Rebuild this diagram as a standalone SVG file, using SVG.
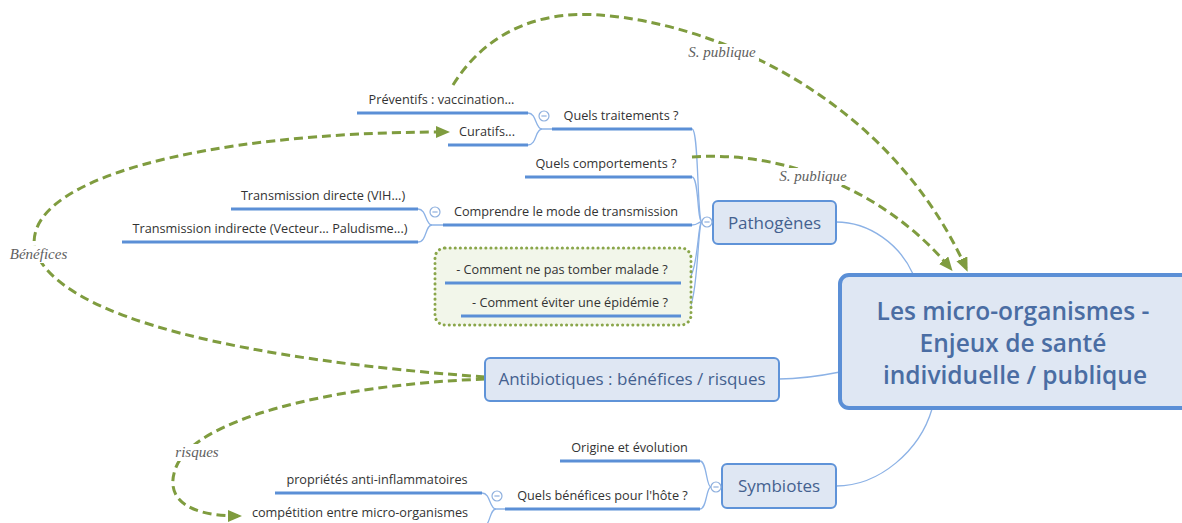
<svg xmlns="http://www.w3.org/2000/svg" width="1182" height="523" viewBox="0 0 1182 523">
<style>
.sub{font-family:"Open Sans","Liberation Sans",sans-serif;font-size:12.7px;fill:#333;text-anchor:middle}
.ul{stroke:#5b8fd6;stroke-width:3;fill:none}
.thin{stroke:#8cb2e6;stroke-width:1.3;fill:none}
.box{fill:#dfe7f3;stroke:#5f93d8;stroke-width:2}
.ntxt{font-family:"Open Sans","Liberation Sans",sans-serif;font-size:17px;fill:#44618f;text-anchor:middle}
.ctxt{font-family:"Open Sans","Liberation Sans",sans-serif;font-size:24.5px;font-weight:600;fill:#4a6da3;text-anchor:middle}
.rel{stroke:#7f9c3f;stroke-width:3;fill:none;stroke-dasharray:9 5}
.lbl{font-family:"Liberation Serif","DejaVu Serif",serif;font-style:italic;font-size:15px;fill:#606060;text-anchor:middle}
.lblbg{fill:#fff}
.col circle{fill:#fff;stroke:#8fb0de;stroke-width:1.2}
.col line{stroke:#8fb0de;stroke-width:1.2}
</style>
<defs>
<marker id="arr" viewBox="0 0 14 12" refX="10" refY="6" markerWidth="14" markerHeight="12" markerUnits="userSpaceOnUse" orient="auto">
<path d="M0,0 L14,6 L0,12 z" fill="#7f9c3f"/>
</marker>
<g id="collapse" class="col"><circle cx="0" cy="0" r="5"/><line x1="-2.6" y1="0" x2="2.6" y2="0"/></g>
</defs>
<rect width="1182" height="523" fill="#fff"/>

<g id="connectors">
<path class="thin" d="M836,222 C870,222 900,245 913,274"/>
<path class="thin" d="M779,379 C800,379 820,376 840,372"/>
<path class="thin" d="M836,486 C880,486 920,450 932,409"/>
<path class="thin" d="M702,222 C697,222 699,129 692,129"/>
<path class="thin" d="M702,222 C697,222 699,177 692,177"/>
<path class="thin" d="M702,222 C697,222 699,225 692,225"/>
<path class="thin" d="M702,222 C697,222 699,283 683,283"/>
<path class="thin" d="M702,222 C697,222 699,316 683,316"/>
<path class="thin" d="M528,113 C537,113 535,129 542,129 L552,129"/>
<path class="thin" d="M528,145 C537,145 535,129 542,129"/>
<path class="thin" d="M418,209 C427,209 425,225 432,225 L443,225"/>
<path class="thin" d="M418,242 C427,242 425,225 432,225"/>
<path class="thin" d="M711,487 C706,487 707,461 700,461"/>
<path class="thin" d="M711,487 C706,487 707,509 700,509"/>
<path class="thin" d="M482,493 C491,493 489,509 496,509 L505,509"/>
<path class="thin" d="M482,527 C491,527 489,509 496,509"/>
</g>

<g id="relations">
<path class="rel" d="M453,85 C495,18 560,12 600,15 C720,24 890,100 966,268" marker-end="url(#arr)"/>
<path class="rel" d="M692,157 C790,150 890,195 950,268" marker-end="url(#arr)"/>
<path class="rel" d="M485,377 C250,360 60,320 35,250 C20,180 200,132 446,132" marker-end="url(#arr)"/>
<path class="rel" d="M485,379 C330,385 190,420 175,470 C165,500 190,516 238,516" marker-end="url(#arr)"/>
<rect class="lblbg" x="687" y="44" width="72" height="17"/>
<text class="lbl" x="722" y="57">S. publique</text>
<rect class="lblbg" x="778" y="168" width="72" height="17"/>
<text class="lbl" x="813" y="181">S. publique</text>
<rect class="lblbg" x="8" y="246" width="62" height="17"/>
<text class="lbl" x="38.5" y="259">Bénéfices</text>
<rect class="lblbg" x="173" y="444" width="48" height="17"/>
<text class="lbl" x="197" y="457">risques</text>
</g>

<g id="central">
<rect x="840" y="275" width="370" height="133" rx="9" fill="#dfe7f3" stroke="#5b8fd6" stroke-width="4"/>
<text class="ctxt" x="1013" y="320">Les micro-organismes -</text>
<text class="ctxt" x="1013" y="352">Enjeux de santé</text>
<text class="ctxt" x="1015" y="384">individuelle / publique</text>
</g>

<g id="pathogenes">
<rect class="box" x="713" y="201" width="123" height="43" rx="5"/>
<text class="ntxt" x="774.5" y="229">Pathogènes</text>
<use href="#collapse" x="707" y="222"/>
</g>

<g id="antibiotiques">
<rect class="box" x="485" y="358" width="294" height="43" rx="5"/>
<text class="ntxt" x="632" y="385">Antibiotiques : bénéfices / risques</text>
</g>

<g id="symbiotes">
<rect class="box" x="722" y="464" width="114" height="44" rx="5"/>
<text class="ntxt" x="779" y="492">Symbiotes</text>
<use href="#collapse" x="716" y="487"/>
</g>

<g id="quels-traitements">
<line class="ul" x1="552" y1="129" x2="692" y2="129"/>
<text class="sub" x="621" y="120">Quels traitements ?</text>
<use href="#collapse" x="544" y="116"/>
</g>
<g id="preventifs">
<line class="ul" x1="357" y1="113" x2="528" y2="113"/>
<text class="sub" x="441.5" y="104">Préventifs : vaccination...</text>
</g>
<g id="curatifs">
<line class="ul" x1="448" y1="145" x2="528" y2="145"/>
<text class="sub" x="487" y="136">Curatifs...</text>
</g>
<g id="quels-comportements">
<line class="ul" x1="525" y1="177" x2="692" y2="177"/>
<text class="sub" x="606" y="168">Quels comportements ?</text>
</g>
<g id="comprendre">
<line class="ul" x1="443" y1="225" x2="692" y2="225"/>
<text class="sub" x="566" y="216">Comprendre le mode de transmission</text>
<use href="#collapse" x="435" y="212"/>
</g>
<g id="transmission-directe">
<line class="ul" x1="231" y1="209" x2="418" y2="209"/>
<text class="sub" x="323" y="200">Transmission directe (VIH...)</text>
</g>
<g id="transmission-indirecte">
<line class="ul" x1="122" y1="242" x2="418" y2="242"/>
<text class="sub" x="270" y="233">Transmission indirecte (Vecteur... Paludisme...)</text>
</g>
<g id="comment-group">
<rect x="435" y="248" width="256" height="77" rx="10" fill="#f2f6ea" stroke="#8aa64a" stroke-width="3" stroke-dasharray="0.1 5" stroke-linecap="round"/>
</g>
<g id="comment-malade">
<line class="ul" x1="445" y1="283" x2="681" y2="283"/>
<text class="sub" x="562" y="274">- Comment ne pas tomber malade ?</text>
</g>
<g id="comment-epidemie">
<line class="ul" x1="461" y1="316" x2="681" y2="316"/>
<text class="sub" x="570" y="307">- Comment éviter une épidémie ?</text>
</g>
<g id="origine">
<line class="ul" x1="560" y1="461" x2="700" y2="461"/>
<text class="sub" x="629.5" y="452">Origine et évolution</text>
</g>
<g id="quels-benefices">
<line class="ul" x1="505" y1="509" x2="700" y2="509"/>
<text class="sub" x="602.5" y="500">Quels bénéfices pour l'hôte ?</text>
<use href="#collapse" x="497" y="496"/>
</g>
<g id="proprietes">
<line class="ul" x1="275" y1="493" x2="482" y2="493"/>
<text class="sub" x="377" y="484">propriétés anti-inflammatoires</text>
</g>
<g id="competition">
<line class="ul" x1="242" y1="527" x2="482" y2="527"/>
<text class="sub" x="360" y="517">compétition entre micro-organismes</text>
</g>
</svg>
